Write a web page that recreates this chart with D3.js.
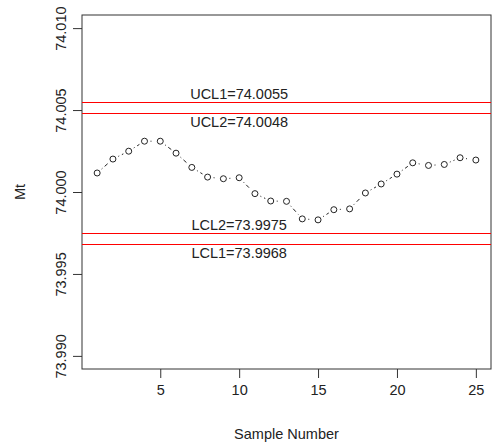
<!DOCTYPE html>
<html>
<head>
<meta charset="utf-8">
<script src="https://cdn.jsdelivr.net/npm/d3@7"></script>
<style>
  body { margin: 0; background: #fff; }
  text { font-family: "Liberation Sans", Arial, sans-serif; fill: #222; }
</style>
</head>
<body>
<svg id="chart" width="494" height="445"></svg>
<script>
// Sample numbers and Mt values
const sampleNumbers = d3.range(1, 26);
const mtValues = [
  74.00116, 74.00201, 74.00249, 74.0031, 74.0031, 74.00237, 74.0015, 74.00091,
  74.00081, 74.00087, 73.9999, 73.99945, 73.99943, 73.99836, 73.9983, 73.99892,
  73.99897, 73.99994, 74.00049, 74.00109, 74.00178, 74.00162, 74.00168, 74.00209,
  74.00195,
];

// Control limits and their labels
const limitNames = ["UCL1", "UCL2", "LCL2", "LCL1"];
const limitValues = [74.0055, 74.0048, 73.9975, 73.9968];
const limitLabelSide = ["above", "below", "above", "below"];
const limitLabelAt = 10;

const xTicks = [5, 10, 15, 20, 25];
const yTicks = [73.99, 73.995, 74.0, 74.005, 74.01];

const svg = d3.select("#chart");
const plot = { left: 82, right: 491, top: 15, bottom: 369 };
const fontSize = 14.5;

const x = d3.scaleLinear().domain([0.04, 25.96]).range([plot.left, plot.right]);
const y = d3.scaleLinear().domain([73.9892, 74.0108]).range([plot.bottom, plot.top]);

// Axes
const xAxis = svg
  .append("g")
  .attr("transform", `translate(0,${plot.bottom})`)
  .call(d3.axisBottom(x).tickValues(xTicks).tickSize(9).tickPadding(7));
xAxis.select(".domain").remove();
xAxis.selectAll("line").attr("stroke", "#333");
xAxis.selectAll("text").attr("font-size", fontSize).attr("fill", "#222")
  .attr("font-family", "Liberation Sans, Arial, sans-serif");

const yAxis = svg
  .append("g")
  .attr("transform", `translate(${plot.left},0)`)
  .call(d3.axisLeft(y).tickValues(yTicks).tickSize(9).tickFormat(d3.format(".3f")));
yAxis.select(".domain").remove();
yAxis.selectAll("line").attr("stroke", "#333");
yAxis
  .selectAll("text")
  .attr("font-size", fontSize)
  .attr("fill", "#222")
  .attr("font-family", "Liberation Sans, Arial, sans-serif")
  .attr("text-anchor", "middle")
  .attr("dy", null)
  .attr("x", null)
  .attr("transform", (d) => `translate(-21,0) rotate(-90)`)
  .attr("y", 0)
  .attr("dominant-baseline", "central");

// Plot box
svg
  .append("rect")
  .attr("x", plot.left)
  .attr("y", plot.top)
  .attr("width", plot.right - plot.left)
  .attr("height", plot.bottom - plot.top)
  .attr("fill", "none")
  .attr("stroke", "#333");

// Axis titles
svg
  .append("text")
  .attr("x", (plot.left + plot.right) / 2)
  .attr("y", 439)
  .attr("text-anchor", "middle")
  .attr("font-size", fontSize)
  .text("Sample Number");
svg
  .append("text")
  .attr("transform", `translate(20,${(plot.top + plot.bottom) / 2}) rotate(-90)`)
  .attr("text-anchor", "middle")
  .attr("dominant-baseline", "central")
  .attr("font-size", fontSize)
  .text("Mt");

// Control limit lines
svg
  .append("g")
  .selectAll("line")
  .data(limitValues)
  .enter()
  .append("line")
  .attr("x1", plot.left)
  .attr("x2", plot.right)
  .attr("y1", (d) => Math.round(y(d)) + 0.5)
  .attr("y2", (d) => Math.round(y(d)) + 0.5)
  .attr("stroke", "red")
  .attr("stroke-width", 1);

svg
  .append("g")
  .selectAll("text")
  .data(limitValues)
  .enter()
  .append("text")
  .attr("x", x(limitLabelAt))
  .attr("y", (d, i) => (limitLabelSide[i] === "above" ? y(d) - 2.5 : y(d) + 14))
  .attr("text-anchor", "middle")
  .attr("font-size", fontSize)
  .text((d, i) => `${limitNames[i]}=${d}`);

// Dot-dash connecting segments with gaps round the points (R type "b")
const points = sampleNumbers.map((s, i) => [x(s), y(mtValues[i])]);
const gap = 6;
const segs = d3.pairs(points).map(([a, b]) => {
  const dx = b[0] - a[0];
  const dy = b[1] - a[1];
  const len = Math.hypot(dx, dy);
  const ux = dx / len;
  const uy = dy / len;
  return [a[0] + ux * gap, a[1] + uy * gap, b[0] - ux * gap, b[1] - uy * gap];
});
svg
  .append("g")
  .selectAll("line")
  .data(segs)
  .enter()
  .append("line")
  .attr("x1", (d) => d[0])
  .attr("y1", (d) => d[1])
  .attr("x2", (d) => d[2])
  .attr("y2", (d) => d[3])
  .attr("stroke", "#222")
  .attr("stroke-width", 1)
  .attr("stroke-dasharray", "1,3,4,3");

svg
  .append("g")
  .selectAll("circle")
  .data(mtValues)
  .enter()
  .append("circle")
  .attr("cx", (d, i) => x(sampleNumbers[i]))
  .attr("cy", (d) => y(d))
  .attr("r", 3)
  .attr("fill", "none")
  .attr("stroke", "#222")
  .attr("stroke-width", 1);
</script>
</body>
</html>
